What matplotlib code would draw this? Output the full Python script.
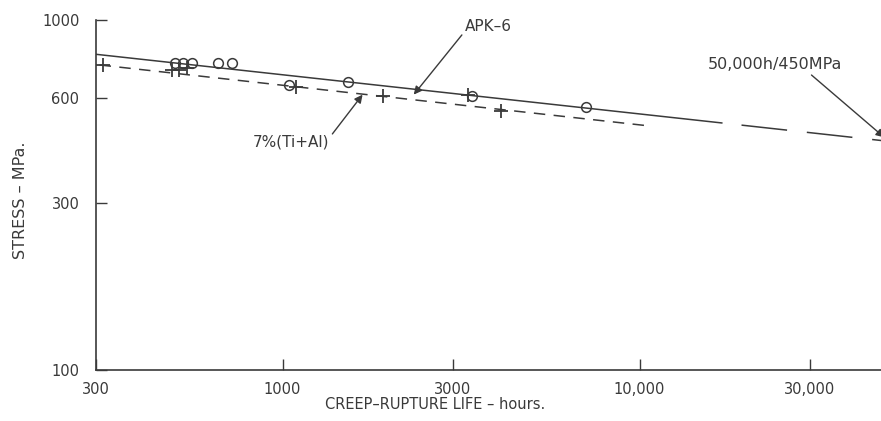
import matplotlib.pyplot as plt
import numpy as np

# APK-6 data points (hours, MPa)
apk_t = [498, 525, 556, 658, 720, 1040, 1520, 3400, 7060]
apk_s = [754, 754, 754, 754, 754, 652, 665, 607, 564]

# 7%(Ti+Al) data points
ti_t = [313, 489, 514, 538, 1090, 1905, 3300, 4100]
ti_s = [744, 720, 720, 729, 644, 607, 610, 550]

# fitted lines
apk_fit_t = [300, 17000]
apk_fit_s = [798, 508]
apk_ext_t = [17000, 50000]
apk_ext_s = [508, 450]
ti_fit_t = [307, 10670]
ti_fit_s = [744, 498]

xticks = [300, 1000, 3000, 10000, 30000]
xlabels = ['300', '1000', '3000', '10,000', '30,000']
yticks = [100, 300, 600, 1000]
ylabels = ['100', '300', '600', '1000']

ink = '#3a3a3a'
plt.rcParams['font.family'] = 'DejaVu Sans'

fig = plt.figure(figsize=(8.81, 4.21), dpi=100)
ax = fig.add_axes([96/881, 1 - 370/421, (889 - 96)/881, 350/421])

ax.plot(apk_fit_t, apk_fit_s, color=ink, lw=1.1)
ax.plot(apk_ext_t, apk_ext_s, color=ink, lw=1.1, linestyle=(30, (30, 13)))
ax.plot(ti_fit_t, ti_fit_s, color=ink, lw=1.1, dashes=(7.5, 5.5))

ax.plot(ti_t, ti_s, '+', color=ink, ms=10, mew=1.3)
ax.plot(apk_t, apk_s, 'o', mfc='none', mec=ink, ms=7, mew=1.1)

ax.set_xscale('log')
ax.set_yscale('log')
ax.set_xlim(300, 50000)
ax.set_ylim(100, 1000)
ax.set_xticks(xticks)
ax.set_xticklabels(xlabels)
ax.set_yticks(yticks)
ax.set_yticklabels(ylabels)
ax.minorticks_off()
ax.tick_params(direction='in', length=8, width=1, color=ink, labelcolor=ink,
               labelsize=10.5, pad=9)
ax.tick_params(axis='y', pad=12)

for s in ['top', 'right']:
    ax.spines[s].set_visible(False)
for s in ['left', 'bottom']:
    ax.spines[s].set_color(ink)
    ax.spines[s].set_linewidth(1.2)

ax.set_xlabel('CREEP\u2013RUPTURE LIFE \u2013 hours.', color=ink, fontsize=10.5)
ax.xaxis.set_label_coords((435 - 96)/793, -27/350)
ax.set_ylabel('STRESS \u2013 MPa.', color=ink, fontsize=11.5)
ax.yaxis.set_label_coords(-(96 - 28)/793, (370 - 200)/350)

arrow = dict(arrowstyle='-|>', color=ink, lw=1.0, shrinkA=0, shrinkB=0,
             mutation_scale=12)
ax.annotate('APK\u20136', xy=(2330, 612), xytext=(3236, 955), color=ink,
            fontsize=11, ha='left', va='center',
            arrowprops=dict(arrow, relpos=(0, 0.2)))
ax.annotate('7%(Ti+Al)', xy=(1675, 612), xytext=(1354, 448), color=ink,
            fontsize=11, ha='right', va='center',
            arrowprops=dict(arrow, relpos=(1, 0.8)))
ax.annotate('50,000h/450MPa', xy=(48500, 462), xytext=(15500, 745), color=ink,
            fontsize=11.5, ha='left', va='center',
            arrowprops=dict(arrow, relpos=(0.75, 0)))

fig.savefig('out.png', dpi=100)
